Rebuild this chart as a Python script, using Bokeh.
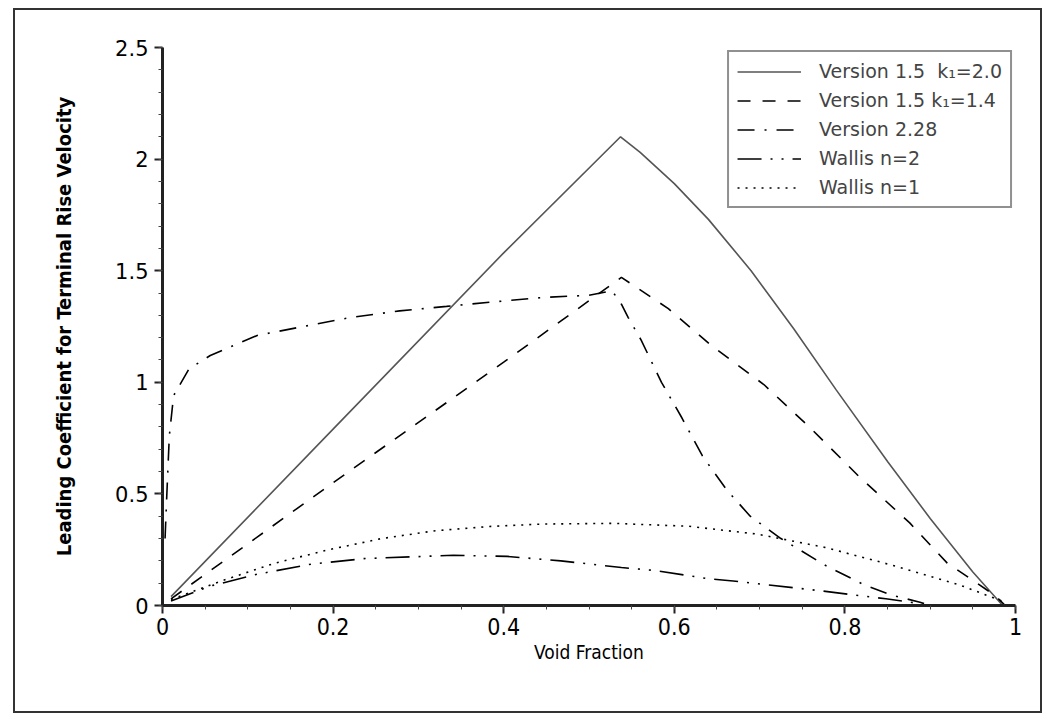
from bokeh.plotting import figure
from bokeh.models import FixedTicker, Legend, LegendItem
from bokeh.embed import file_html
from bokeh.resources import INLINE

# ---- data ----
v15a_x = [0.01, 0.2, 0.4, 0.537, 0.56, 0.60, 0.64, 0.69, 0.74, 0.79, 0.85, 0.90, 0.95, 0.985]
v15a_y = [0.04, 0.79, 1.58, 2.10, 2.03, 1.89, 1.73, 1.50, 1.24, 0.965, 0.645, 0.39, 0.15, 0.0]

v15b_x = [0.01, 0.2, 0.4, 0.538, 0.593, 0.645, 0.705, 0.761, 0.816, 0.876, 0.92, 0.976, 0.988]
v15b_y = [0.03, 0.55, 1.09, 1.47, 1.33, 1.16, 0.99, 0.79, 0.58, 0.37, 0.19, 0.045, 0.0]

v228_x = [0.003, 0.005, 0.008, 0.013, 0.031, 0.056, 0.111, 0.165, 0.22, 0.278, 0.333, 0.387,
          0.446, 0.5, 0.527, 0.538, 0.546, 0.561, 0.585, 0.609, 0.633, 0.661, 0.689, 0.725,
          0.777, 0.824, 0.856, 0.888, 0.90]
v228_y = [0.30, 0.49, 0.76, 0.94, 1.06, 1.12, 1.21, 1.25, 1.29, 1.32, 1.34, 1.36,
          1.38, 1.39, 1.41, 1.35, 1.29, 1.19, 1.00, 0.84, 0.67, 0.52, 0.40, 0.30,
          0.18, 0.09, 0.045, 0.015, 0.0]

w2_x = [0.01, 0.056, 0.111, 0.174, 0.236, 0.341, 0.404, 0.467, 0.538, 0.577, 0.64, 0.669,
        0.769, 0.848, 0.876, 0.90]
w2_y = [0.02, 0.087, 0.14, 0.185, 0.21, 0.225, 0.22, 0.20, 0.17, 0.157, 0.12, 0.11,
        0.067, 0.03, 0.015, 0.0]

w1_x = [0.01, 0.069, 0.132, 0.195, 0.257, 0.32, 0.383, 0.446, 0.529, 0.617, 0.697, 0.777,
        0.856, 0.936, 0.984]
w1_y = [0.027, 0.11, 0.19, 0.25, 0.30, 0.335, 0.354, 0.365, 0.368, 0.355, 0.32, 0.26,
        0.18, 0.09, 0.02]

labels = ["Version 1.5  k\u2081=2.0", "Version 1.5 k\u2081=1.4", "Version 2.28",
          "Wallis n=2", "Wallis n=1"]

x_ticks = [0, 0.2, 0.4, 0.6, 0.8, 1.0]
x_tick_labels = ["0", "0.2", "0.4", "0.6", "0.8", "1"]
y_ticks = [0, 0.5, 1.0, 1.5, 2.0, 2.5]
y_tick_labels = ["0", "0.5", "1", "1.5", "2", "2.5"]
x_minor = [i * 0.05 for i in range(21)]
y_minor = [i * 0.1 for i in range(26)]

# ---- figure ----
p = figure(width=1029, height=705, x_range=(0, 1), y_range=(0, 2.5),
           output_backend="svg", toolbar_location=None,
           min_border_left=147, min_border_right=29, min_border_top=37, min_border_bottom=110)
p.styles = {"border": "2px solid #333", "margin-left": "13px", "margin-top": "8px"}
p.outline_line_color = None
p.xgrid.visible = False
p.ygrid.visible = False
p.background_fill_color = "white"
p.border_fill_color = "white"

lw = 1.6
r1 = p.line(v15a_x, v15a_y, line_color="#555555", line_width=lw)
r2 = p.line(v15b_x, v15b_y, line_color="black", line_width=lw, line_dash="13 12")
r3 = p.line(v228_x, v228_y, line_color="black", line_width=lw, line_dash="17 10 2 10")
r4 = p.line(w2_x, w2_y, line_color="black", line_width=lw, line_dash="24 9 2 9 2 9")
r5 = p.line(w1_x, w1_y, line_color="black", line_width=lw, line_dash="2 6")

# axes
for ax in (p.xaxis[0], p.yaxis[0]):
    ax.axis_line_width = 3
    ax.axis_line_color = "#222222"
    ax.major_tick_line_color = "#222222"
    ax.minor_tick_line_color = "#444444"
    ax.major_tick_line_width = 2
    ax.minor_tick_line_width = 1
    ax.major_tick_in = 0
    ax.minor_tick_in = 0
    ax.major_label_text_color = "black"
    ax.axis_label_text_color = "black"
    ax.axis_label_text_font_style = "normal"

p.xaxis.ticker = FixedTicker(ticks=x_ticks, minor_ticks=x_minor)
p.yaxis.ticker = FixedTicker(ticks=y_ticks, minor_ticks=y_minor)
p.xaxis.major_label_overrides = dict(zip(x_ticks, x_tick_labels))
p.yaxis.major_label_overrides = dict(zip(y_ticks, y_tick_labels))

p.xaxis.major_tick_out = 8
p.xaxis.minor_tick_out = 4
p.yaxis.major_tick_out = 8
p.yaxis.minor_tick_out = 4

p.xaxis.major_label_text_font = "DejaVu Sans Condensed"
p.xaxis.major_label_text_font_size = "23px"
p.xaxis.major_label_standoff = 4
p.yaxis.major_label_text_font = "DejaVu Sans"
p.yaxis.major_label_text_font_size = "21px"
p.yaxis.major_label_standoff = 6

p.xaxis.axis_label = "Void Fraction"
p.xaxis.axis_label_text_font = "DejaVu Sans Condensed"
p.xaxis.axis_label_text_font_size = "19px"
p.xaxis.axis_label_standoff = 3

p.yaxis.axis_label = "Leading Coefficient for Terminal Rise Velocity"
p.yaxis.axis_label_text_font = "DejaVu Sans Condensed"
p.yaxis.axis_label_text_font_size = "20px"
p.yaxis.axis_label_text_font_style = "bold"
p.yaxis.axis_label_standoff = 36

# legend
legend = Legend(items=[LegendItem(label=labels[0], renderers=[r1]),
                       LegendItem(label=labels[1], renderers=[r2]),
                       LegendItem(label=labels[2], renderers=[r3]),
                       LegendItem(label=labels[3], renderers=[r4]),
                       LegendItem(label=labels[4], renderers=[r5])],
                location="top_right")
legend.margin = 3
legend.padding = 8
legend.spacing = 7
legend.glyph_width = 64
legend.glyph_height = 21
legend.label_height = 21
legend.label_standoff = 18
legend.label_text_font = "DejaVu Sans"
legend.label_text_font_size = "19px"
legend.border_line_color = "#222222"
legend.border_line_width = 2
legend.background_fill_color = "white"
legend.background_fill_alpha = 1.0
p.add_layout(legend)

open("out.html", "w").write(file_html(p, INLINE))
